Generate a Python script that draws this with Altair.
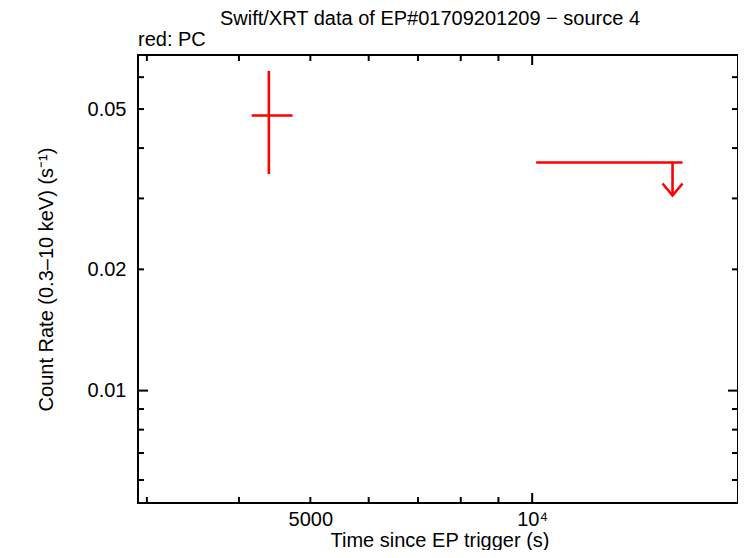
import altair as alt
import pandas as pd

# ---- data ----
# PC detection (time, time range, rate, rate range)
pc_t = [4392]
pc_tmin = [4163]
pc_tmax = [4730]
pc_rate = [0.0482]
pc_rmin = [0.0345]
pc_rmax = [0.0622]

# PC upper limit
ul_tmin = [10125]
ul_tmax = [15996]
ul_tmid = [15506]
ul_rate = [0.03684]
ul_arrow_end = [0.0305]

# axis ticks
x_minor = [3000, 4000, 5000, 6000, 7000, 8000, 9000]
x_major = [10000]
y_minor = [0.006, 0.007, 0.008, 0.009, 0.02, 0.03, 0.04, 0.05, 0.06]
y_major = [0.01]
x_labels = [5000, 10000]
y_labels = [0.01, 0.02, 0.05]

X_DOMAIN = [2918, 19025]
Y_DOMAIN = [0.00526, 0.0681]

W, H = 600, 448
FONT = "Liberation Sans"
FS = 20
RED = "#ff0000"

xs = alt.Scale(type="log", domain=X_DOMAIN, nice=False)
ys = alt.Scale(type="log", domain=Y_DOMAIN, nice=False)

pc = pd.DataFrame(dict(t=pc_t, tmin=pc_tmin, tmax=pc_tmax, r=pc_rate, rmin=pc_rmin, rmax=pc_rmax))
ul = pd.DataFrame(dict(tmin=ul_tmin, tmax=ul_tmax, tmid=ul_tmid, r=ul_rate, rend=ul_arrow_end))

x_axis = alt.Axis(
    values=x_labels, labelExpr="datum.value >= 10000 ? '10\u2074' : '5000'",
    tickSize=0, domain=False, grid=False, labelPadding=6,
    labelFont=FONT, labelFontSize=FS, labelColor="black",
    title=None,
)
y_axis = alt.Axis(
    values=y_labels, format=".2f",
    tickSize=0, domain=False, grid=False, labelPadding=12,
    labelFont=FONT, labelFontSize=FS, labelColor="black",
    title="Count Rate (0.3\u201310 keV) (s\u207b\u00b9)", titleFont=FONT, titleFontSize=FS,
    titleFontWeight="normal", titleColor="black", titlePadding=31,
)

base_pc = alt.Chart(pc)

axes_layer = base_pc.mark_point(opacity=0).encode(
    x=alt.X("t:Q", scale=xs, axis=x_axis),
    y=alt.Y("r:Q", scale=ys, axis=y_axis),
)

pc_h = base_pc.mark_rule(color=RED, strokeWidth=2.6).encode(
    x=alt.X("tmin:Q", scale=xs), x2="tmax:Q", y=alt.Y("r:Q", scale=ys))
pc_v = base_pc.mark_rule(color=RED, strokeWidth=2.6).encode(
    x=alt.X("t:Q", scale=xs), y=alt.Y("rmin:Q", scale=ys), y2="rmax:Q")

base_ul = alt.Chart(ul)
ul_h = base_ul.mark_rule(color=RED, strokeWidth=2.6).encode(
    x=alt.X("tmin:Q", scale=xs), x2="tmax:Q", y=alt.Y("r:Q", scale=ys))
ul_v = base_ul.mark_rule(color=RED, strokeWidth=2.6).encode(
    x=alt.X("tmid:Q", scale=xs), y=alt.Y("rend:Q", scale=ys), y2="r:Q")
ul_head = base_ul.mark_point(
    shape="M-1,-1.2L0,0L1,-1.2", filled=False, color=RED, strokeWidth=2.6,
    size=400, opacity=1,
).encode(x=alt.X("tmid:Q", scale=xs), y=alt.Y("rend:Q", scale=ys))

def xticks(vals, length):
    d = alt.Chart(pd.DataFrame({"v": vals}))
    bot = d.mark_rule(color="black", strokeWidth=2).encode(
        x=alt.X("v:Q", scale=xs), y=alt.value(H), y2=alt.value(H - length))
    top = d.mark_rule(color="black", strokeWidth=2).encode(
        x=alt.X("v:Q", scale=xs), y=alt.value(0), y2=alt.value(length))
    return [bot, top]

def yticks(vals, length):
    d = alt.Chart(pd.DataFrame({"v": vals}))
    left = d.mark_rule(color="black", strokeWidth=2).encode(
        y=alt.Y("v:Q", scale=ys), x=alt.value(0), x2=alt.value(length))
    right = d.mark_rule(color="black", strokeWidth=2).encode(
        y=alt.Y("v:Q", scale=ys), x=alt.value(W), x2=alt.value(W - length))
    return [left, right]

def text_layer(txt, x, y, align):
    return alt.Chart(pd.DataFrame({"txt": [txt]})).mark_text(
        font=FONT, fontSize=FS, color="black", align=align, baseline="alphabetic",
    ).encode(text="txt:N", x=alt.value(x), y=alt.value(y))

title = text_layer("Swift/XRT data of EP#01709201209 \u2212 source 4", 292, -30, "center")
sub = text_layer("red: PC", 0, -9, "left")
xtitle = text_layer("Time since EP trigger (s)", W / 2 + 2, H + 44, "center")

layers = [axes_layer] + xticks(x_minor, 6) + xticks(x_major, 10) + yticks(y_minor, 6) + yticks(y_major, 10) + [
    pc_h, pc_v, ul_h, ul_v, ul_head, title, sub, xtitle]

chart = alt.layer(*layers).properties(
    width=W, height=H,
    autosize=alt.AutoSizeParams(type="none"),
    padding={"left": 130, "top": 47, "right": 0, "bottom": 47},
    background="white",
).configure_view(stroke="black", strokeWidth=2)

chart.save("out.html", embed_options={"renderer": "svg", "actions": False})
